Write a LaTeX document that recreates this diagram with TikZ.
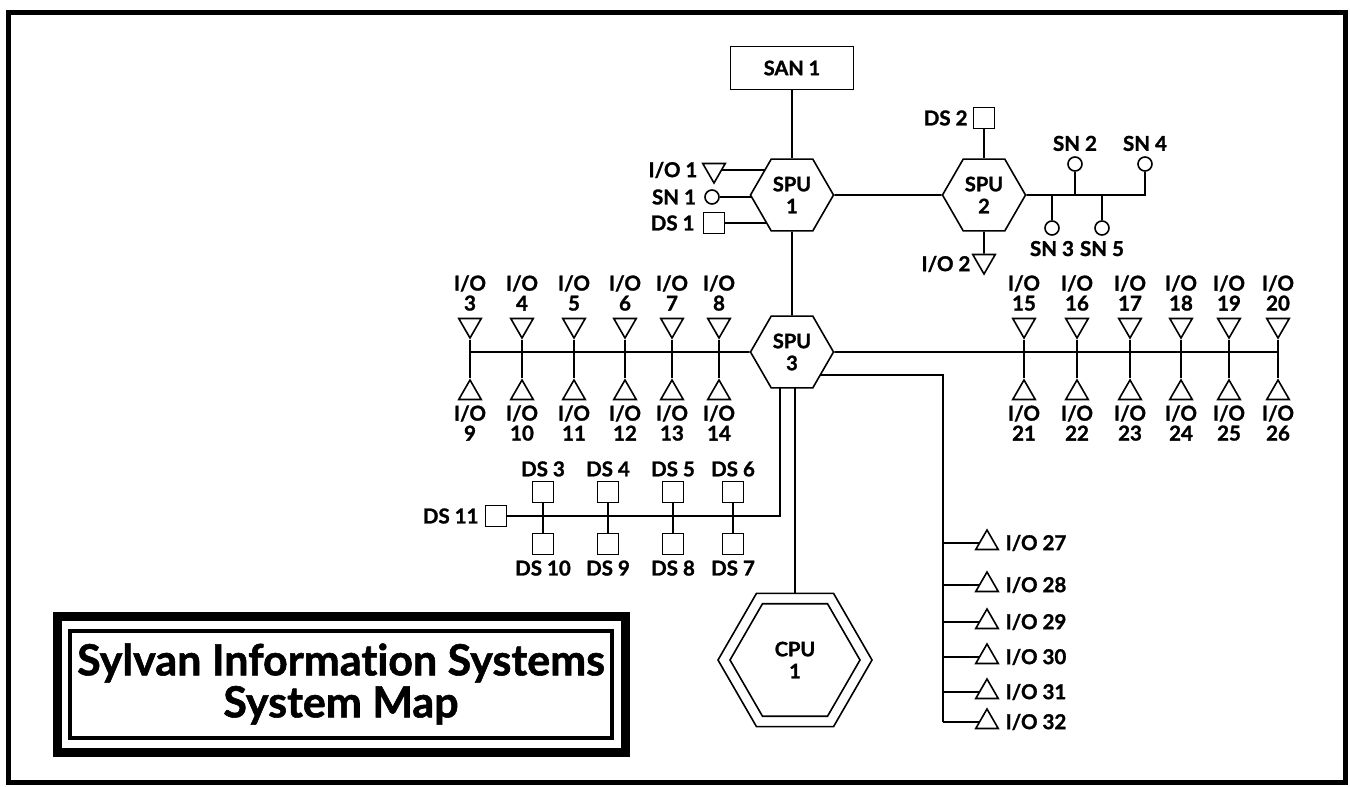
\documentclass[tikz,border=0pt]{standalone}
\usepackage{fontspec}
\setmainfont{Lato}[Ligatures=NoCommon, BoldFeatures={FakeBold=1.3}]
\usetikzlibrary{positioning, shapes.geometric, backgrounds, calc}

\newcommand{\lblfont}{\fontsize{20.5}{20}\selectfont\bfseries}
\newcommand{\hexfont}{\fontsize{20}{22}\selectfont\bfseries}
\newcommand{\titlefont}{\fontsize{43}{42}\selectfont\bfseries}

\tikzset{
    wire/.style={line width=1.6pt},
    hexnode/.style={regular polygon, regular polygon sides=6, minimum size=83pt,
        inner sep=0pt, draw, fill=white, line width=1.6pt, font=\hexfont, align=center},
    dsbox/.style={draw, fill=white, minimum size=21pt, inner sep=0pt, line width=1.6pt},
    snnode/.style={circle, draw, fill=white, minimum size=14pt, inner sep=0pt, line width=1.6pt},
    ioup/.style={regular polygon, regular polygon sides=3, minimum size=26pt,
        inner sep=0pt, draw, fill=white, line width=1.6pt},
    iodown/.style={ioup, shape border rotate=180},
    lbl/.style={font=\lblfont, inner sep=1pt, align=center}
}

\begin{document}
\begin{tikzpicture}[
    x=1pt, y=-1pt,          % pixel-like grid, y downwards
    line join=miter
]
    \useasboundingbox (0,0) rectangle (1350,787);

    % --- 1. outer frame ---
    \draw [line width=5pt] (8,12) rectangle (1345,782);

    % --- 2. top: SAN 1, SPU 1, SPU 2 ---
    \node [draw, fill=white, line width=1.6pt, minimum width=123pt, minimum height=43pt,
        font=\hexfont] (san1) at (792,68) {SAN 1};
    \node [hexnode] (spu1) at (792,195) {SPU\\1};
    \node [hexnode] (spu2) at (984,195) {SPU\\2};

    % left side of SPU 1
    \node [iodown] (io1) at (714,170) {};
    \node [snnode] (sn1) at (712,197) {};
    \node [dsbox] (ds1) at (714,223) {};
    \node [lbl, left=7pt of io1] (io1l) {I/O 1};
    \node [lbl, left=7pt of sn1] (sn1l) {SN 1};
    \node [lbl, left=7pt of ds1] (ds1l) {DS 1};

    % around SPU 2
    \node [dsbox] (ds2) at (984,118) {};
    \node [lbl, left=4pt of ds2] (ds2l) {DS 2};
    \node [iodown] (io2) at (984,261) {};
    \node [lbl, left=4pt of io2, yshift=-3pt] (io2l) {I/O 2};

    \coordinate (sncorner) at (1145,195);
    \node [snnode] (sn4) at (1145,164) {};
    \node [snnode] (sn2) at (1075,164) {};
    \node [snnode] (sn3) at (1052,228) {};
    \node [snnode] (sn5) at (1102,228) {};
    \node [lbl, above=4pt of sn2] (sn2l) {SN 2};
    \node [lbl, above=4pt of sn4] (sn4l) {SN 4};
    \node [lbl, below=4pt of sn3] (sn3l) {SN 3};
    \node [lbl, below=4pt of sn5] (sn5l) {SN 5};

    % --- 3. SPU 3 with both I/O rows ---
    \node [hexnode] (spu3) at (792,352) {SPU\\3};

    \foreach \x/\n/\m [count=\i] in {470/3/9, 522/4/10, 574/5/11, 625/6/12, 672/7/13, 719/8/14} {
        \node [iodown] (lt\i) at (\x,325) {};
        \node [ioup] (lb\i) at (\x,393) {};
        \node [lbl] (ltl\i) at (\x,293) {I/O\\\n};
        \node [lbl] (lbl\i) at (\x,423) {I/O\\\m};
    }
    \foreach \x/\n/\m [count=\i] in {1024/15/21, 1077/16/22, 1130/17/23, 1181/18/24, 1229/19/25, 1278/20/26} {
        \node [iodown] (rt\i) at (\x,325) {};
        \node [ioup] (rb\i) at (\x,393) {};
        \node [lbl] (rtl\i) at (\x,293) {I/O\\\n};
        \node [lbl] (rbl\i) at (\x,423) {I/O\\\m};
    }

    % --- 4. disk strings under SPU 3 ---
    \node [dsbox] (ds11) at (496,516) {};
    \node [lbl, left=5pt of ds11] (ds11l) {DS 11};
    \coordinate (dscorner) at (780,516);
    \foreach \x/\a/\b [count=\i] in {543/3/10, 608/4/9, 673/5/8, 733/6/7} {
        \node [dsbox] (dt\i) at (\x,492) {};
        \node [dsbox] (db\i) at (\x,544) {};
        \node [lbl, above=3pt of dt\i] (dtl\i) {DS \a};
        \node [lbl, below=4pt of db\i] (dbl\i) {DS \b};
    }

    % --- 5. CPU 1 ---
    \node [hexnode, minimum size=154pt] (cpu) at (795,660) {};
    \node [hexnode, minimum size=130pt] (cpuin) at (cpu) {CPU\\1};

    % --- 6. I/O 27 to I/O 32 ---
    \coordinate (iobus) at (943,375);
    \foreach \y/\n in {543/27, 585/28, 622/29, 657/30, 692/31, 722/32} {
        \node [ioup] (io\n) at (987,\y) {};
        \node [lbl, right=9pt of io\n] (iol\n) {I/O \n};
    }

    % --- 7. title box ---
    \node [draw, line width=9pt, minimum width=568pt, minimum height=136pt] (titleout) at (341,684) {};
    \node [draw, line width=4pt, minimum width=542pt, minimum height=107pt] (titlein) at (341,684) {};
    \node [font=\titlefont, align=center] (title) at (341,684) {Sylvan Information Systems\\System Map};

    % --- 8. connectors (behind the white shapes) ---
    \begin{scope}[on background layer]
        \draw [wire] (san1) -- (spu1);
        \draw [wire] (spu1) -- (spu2);
        \draw [wire] (spu1) -- (spu3);
        \draw [wire] (io1) -- (io1 -| spu1);
        \draw [wire] (sn1) -- (sn1 -| spu1);
        \draw [wire] (ds1) -- (ds1 -| spu1);
        \draw [wire] (ds2) -- (spu2);
        \draw [wire] (spu2) -- (io2);
        \draw [wire] (spu2) -- (sncorner) -- (sn4);
        \draw [wire] (sn2) -- (sn2 |- sncorner);
        \draw [wire] (sn3) -- (sn3 |- sncorner);
        \draw [wire] (sn5) -- (sn5 |- sncorner);

        \draw [wire] (lt1 |- spu3) -- (spu3);
        \draw [wire] (spu3) -- (rt6 |- spu3);
        \foreach \i in {1,...,6} {
            \draw [wire] (lt\i.corner 1) -- (lb\i.corner 1);
            \draw [wire] (rt\i.corner 1) -- (rb\i.corner 1);
        }

        \draw [wire] (ds11) -- (dscorner) -- (dscorner |- spu3);
        \foreach \i in {1,...,4}
            \draw [wire] (dt\i) -- (db\i);

        \draw [wire] (cpu.center |- spu3) -- (cpu);

        \draw [wire] (spu3 |- iobus) -- (iobus) -- (iobus |- io32);
        \foreach \n in {27,...,32}
            \draw [wire] (iobus |- io\n) -- (io\n);
    \end{scope}

\end{tikzpicture}
\end{document}
